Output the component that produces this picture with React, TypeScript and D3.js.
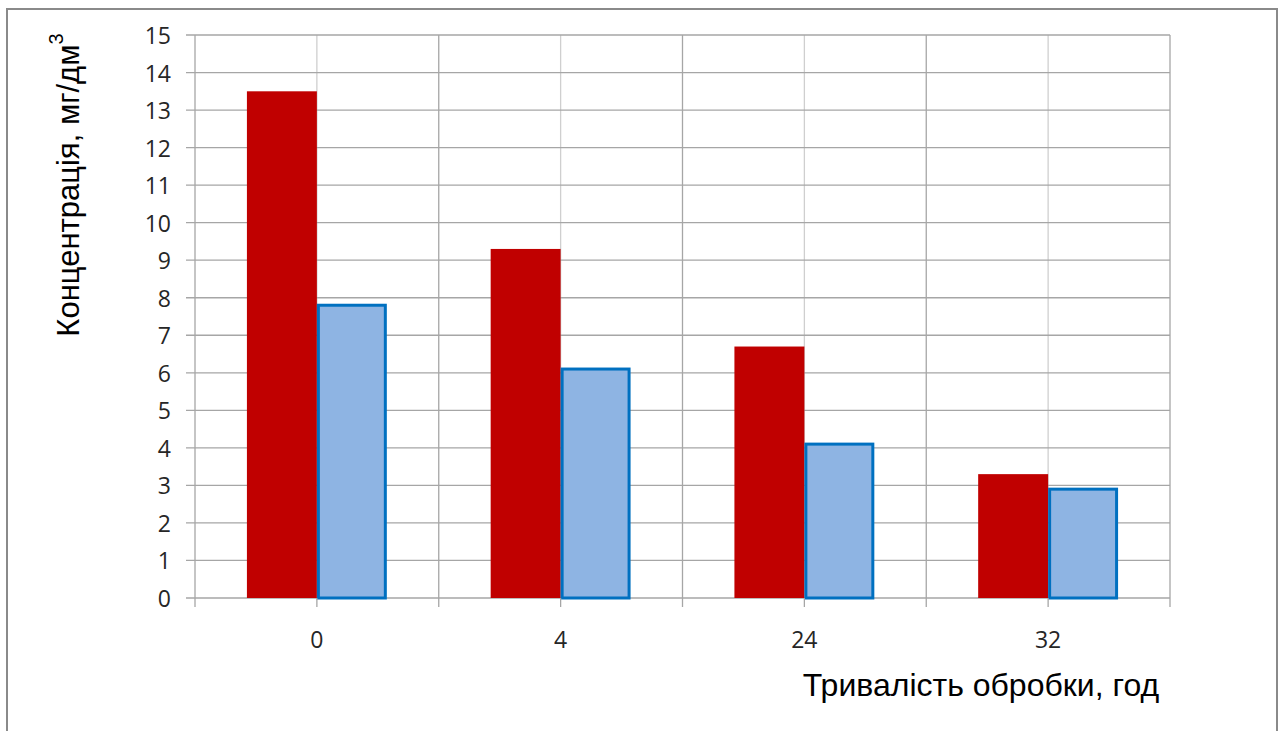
import React from "react";
import * as d3 from "d3";

// Processing duration (hours) and concentration of the two series, mg/dm³
const categories: string[] = ["0", "4", "24", "32"];
const seriesRed: number[] = [13.5, 9.3, 6.7, 3.3];
const seriesBlue: number[] = [7.8, 6.1, 4.1, 2.9];
const yTicks: number[] = d3.range(0, 16, 1);

const W = 1280;
const H = 731;
const plot = { left: 195, right: 1170, top: 35, bottom: 598 };
const tickFont = "'Open Sans', 'Noto Sans', sans-serif";
const titleFont = "'Liberation Sans', Arial, sans-serif";

export default function App() {
  const x = d3
    .scaleBand<string>()
    .domain(categories)
    .range([plot.left, plot.right])
    .paddingInner(0)
    .paddingOuter(0);
  const y = d3.scaleLinear().domain([0, 15]).range([plot.bottom, plot.top]);

  const bw = x.bandwidth();
  const barW = bw * 0.287;
  const centers = categories.map((c) => (x(c) as number) + bw / 2);
  const bounds = categories.map((c) => x(c) as number).concat([plot.right]);

  return (
    <svg
      width={W}
      height={H}
      style={{ position: "absolute", left: 0, top: 0, background: "#fff" }}
    >
      {/* chart frame */}
      <rect x={7} y={9} width={1270} height={740} fill="#fff" stroke="#8a8a8a" strokeWidth={2} />

      {/* light gridlines at category centres */}
      {centers.map((cx, i) => (
        <line key={"cg" + i} x1={cx} x2={cx} y1={plot.top} y2={plot.bottom} stroke="#cfcfcf" strokeWidth={1.3} />
      ))}
      {/* gridlines at category boundaries */}
      {bounds.map((bx, i) => (
        <line key={"bg" + i} x1={bx} x2={bx} y1={plot.top} y2={plot.bottom} stroke="#a6a6a6" strokeWidth={1.3} />
      ))}
      {/* horizontal gridlines */}
      {yTicks.map((t) => (
        <line key={"hg" + t} x1={plot.left - 9} x2={plot.right} y1={y(t)} y2={y(t)} stroke="#a6a6a6" strokeWidth={1.3} />
      ))}

      {/* bars */}
      {categories.map((c, i) => (
        <g key={"b" + c}>
          <rect
            x={centers[i] - barW}
            y={y(seriesRed[i])}
            width={barW}
            height={y(0) - y(seriesRed[i])}
            fill="#C00000"
          />
          <rect
            x={centers[i] + 1.5}
            y={y(seriesBlue[i])}
            width={barW - 3}
            height={y(0) - y(seriesBlue[i])}
            fill="#8EB4E3"
            stroke="#0070C0"
            strokeWidth={3}
          />
        </g>
      ))}

      {/* x-axis tick marks */}
      {bounds.concat(centers).map((tx, i) => (
        <line key={"xt" + i} x1={tx} x2={tx} y1={plot.bottom} y2={plot.bottom + 9} stroke="#a6a6a6" strokeWidth={1.3} />
      ))}

      {/* y tick labels */}
      {yTicks.map((t) => (
        <text
          key={"yl" + t}
          x={171}
          y={y(t)}
          textAnchor="end"
          dominantBaseline="central"
          fontFamily={tickFont}
          fontSize={23}
          fill="#262626"
        >
          {t}
        </text>
      ))}

      {/* x tick labels */}
      {categories.map((c, i) => (
        <text
          key={"xl" + c}
          x={centers[i]}
          y={639}
          textAnchor="middle"
          dominantBaseline="central"
          fontFamily={tickFont}
          fontSize={23}
          fill="#262626"
        >
          {c}
        </text>
      ))}

      {/* axis titles */}
      <text
        x={981}
        y={685}
        textAnchor="middle"
        dominantBaseline="central"
        fontFamily={titleFont}
        fontSize={32}
        fill="#000"
      >
        Тривалість обробки, год
      </text>
      <text
        transform="translate(68,185) rotate(-90)"
        textAnchor="middle"
        dominantBaseline="central"
        fontFamily={titleFont}
        fontSize={31}
        fill="#000"
      >
        Концентрація, мг/дм<tspan dy={-12} fontSize={20}>3</tspan>
      </text>
    </svg>
  );
}
